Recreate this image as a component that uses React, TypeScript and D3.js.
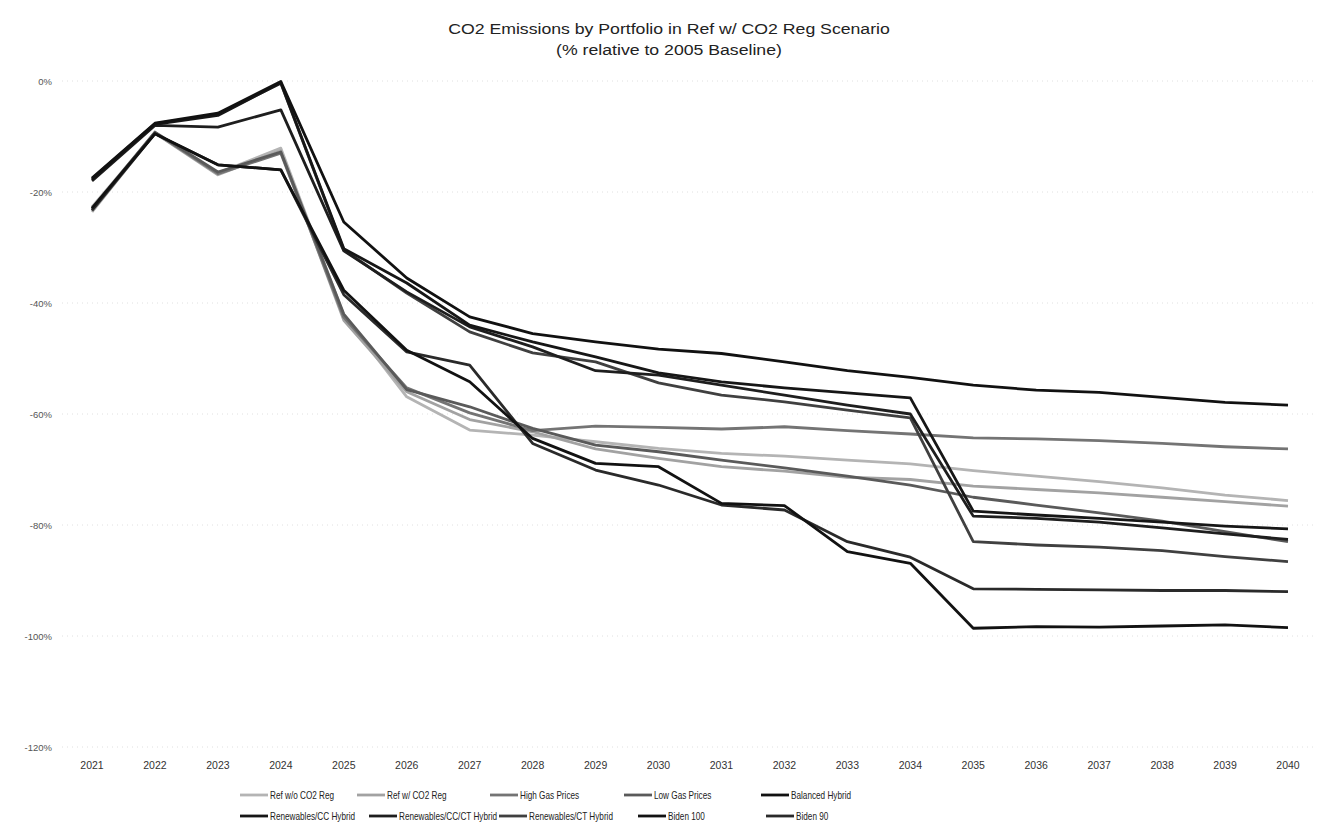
import React from "react";
import * as d3 from "d3";

const years = [2021,2022,2023,2024,2025,2026,2027,2028,2029,2030,2031,2032,2033,2034,2035,2036,2037,2038,2039,2040];
const yTicks = [0,-20,-40,-60,-80,-100,-120];

const refWoCO2 = [-22.7,-9.4,-16.6,-12.1,-42.2,-56.9,-62.9,-63.8,-65.0,-66.2,-67.1,-67.6,-68.3,-69.0,-70.2,-71.2,-72.2,-73.3,-74.6,-75.6];
const refWCO2 = [-23.6,-9.4,-16.9,-12.6,-43.1,-56.0,-61.0,-63.2,-66.3,-68.0,-69.5,-70.3,-71.4,-71.8,-73.0,-73.6,-74.2,-75.0,-75.8,-76.6];
const highGas = [-23.2,-9.3,-16.7,-13.0,-42.6,-55.3,-59.8,-63.0,-62.2,-62.4,-62.7,-62.3,-63.0,-63.6,-64.3,-64.5,-64.8,-65.3,-65.9,-66.3];
const lowGas = [-23.0,-9.2,-16.4,-12.8,-42.0,-55.6,-58.7,-62.6,-65.6,-66.8,-68.3,-69.7,-71.2,-72.8,-75.0,-76.4,-77.8,-79.3,-81.2,-83.0];
const balanced = [-17.5,-7.6,-5.8,-0.1,-25.4,-35.5,-42.5,-45.5,-47.0,-48.3,-49.1,-50.6,-52.2,-53.4,-54.8,-55.7,-56.1,-57.0,-57.9,-58.4];
const renCC = [-17.8,-7.8,-6.2,-0.3,-30.2,-36.4,-44.0,-47.0,-49.7,-52.6,-54.2,-55.3,-56.2,-57.1,-77.5,-78.2,-78.8,-79.5,-80.2,-80.7];
const renCCCT = [-18.0,-8.0,-8.3,-5.2,-30.6,-38.0,-44.3,-47.9,-52.2,-53.0,-54.8,-56.6,-58.4,-60.0,-78.4,-78.8,-79.5,-80.5,-81.6,-82.6];
const renCT = [-17.6,-7.7,-6.0,-0.4,-30.4,-38.2,-45.2,-49.0,-50.6,-54.4,-56.6,-57.8,-59.3,-60.7,-83.0,-83.6,-84.0,-84.6,-85.7,-86.6];
const biden100 = [-22.9,-9.5,-15.1,-16.0,-37.7,-48.5,-54.2,-64.4,-68.9,-69.5,-76.1,-76.5,-84.8,-86.9,-98.6,-98.3,-98.4,-98.2,-98.0,-98.5];
const biden90 = [-23.3,-9.5,-15.1,-16.0,-38.5,-48.8,-51.2,-65.3,-70.1,-72.8,-76.4,-77.3,-83.0,-85.8,-91.5,-91.6,-91.7,-91.8,-91.8,-92.0];

const seriesNames = ["Ref w/o CO2 Reg","Ref w/ CO2 Reg","High Gas Prices","Low Gas Prices","Balanced Hybrid","Renewables/CC Hybrid","Renewables/CC/CT Hybrid","Renewables/CT Hybrid","Biden 100","Biden 90"];
const seriesValues = [refWoCO2, refWCO2, highGas, lowGas, balanced, renCC, renCCCT, renCT, biden100, biden90];
const seriesColors = ["#b4b4b4","#a2a2a2","#747474","#5a5a5a","#111111","#161616","#1e1e1e","#404040","#121212","#2a2a2a"];

const legendRows = [[0,1,2,3,4],[5,6,7,8,9]];
const legendX = [[240,357,490,624,761],[240,369,499,638,766]];

export default function App() {
  const W = 1320, H = 833;
  const x = d3.scalePoint<number>().domain(years).range([92, 1288]);
  const y = d3.scaleLinear().domain([-120, 0]).range([747, 81]);
  const line = d3.line<number>().x((_, i) => x(years[i]) as number).y((v) => y(v));
  const font = "'Liberation Sans', Arial, sans-serif";
  const drawOrder = [0,1,2,3,7,9,6,5,4,8];
  return (
    <svg width={W} height={H} style={{ position: "absolute", left: 0, top: 0, background: "#fff" }} fontFamily={font}>
      <rect width={W} height={H} fill="#fff" />
      <g transform="translate(669,34) scale(1.14,1)">
        <text x={0} y={0} textAnchor="middle" fontSize={15.5} fill="#222">CO2 Emissions by Portfolio in Ref w/ CO2 Reg Scenario</text>
      </g>
      <g transform="translate(669,55) scale(1.14,1)">
        <text x={0} y={0} textAnchor="middle" fontSize={15.5} fill="#222">(% relative to 2005 Baseline)</text>
      </g>
      {yTicks.map((t) => (
        <g key={t}>
          <line x1={62} x2={1316} y1={y(t)} y2={y(t)} stroke="#d8d8d8" strokeWidth={0.8} strokeDasharray="1 4" />
          <text x={52} y={y(t) + 3.5} textAnchor="end" fontSize={9.5} fill="#555">{t + "%"}</text>
        </g>
      ))}
      {years.map((yr) => (
        <text key={yr} x={x(yr)} y={769} textAnchor="middle" fontSize={10.5} fill="#333">{yr}</text>
      ))}
      {drawOrder.map((i) => (
        <path key={i} d={line(seriesValues[i]) || ""} fill="none" stroke={seriesColors[i]} strokeWidth={2.8} strokeLinejoin="round" />
      ))}
      {legendRows.map((row, r) =>
        row.map((i, c) => {
          const lx = legendX[r][c];
          const ly = r === 0 ? 795 : 816;
          return (
            <g key={i}>
              <line x1={lx} x2={lx + 28} y1={ly} y2={ly} stroke={seriesColors[i]} strokeWidth={2.8} />
              <g transform={`translate(${lx + 30},${ly + 3.5}) scale(0.82,1)`}>
                <text x={0} y={0} fontSize={10} fill="#222">{seriesNames[i]}</text>
              </g>
            </g>
          );
        })
      )}
    </svg>
  );
}
